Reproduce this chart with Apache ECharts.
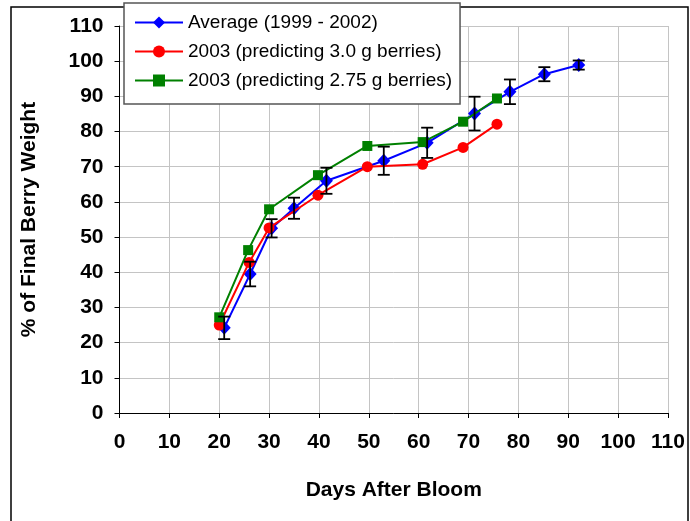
<!DOCTYPE html>
<html>
<head>
<meta charset="utf-8">
<script src="https://cdn.jsdelivr.net/npm/echarts@6/dist/echarts.min.js"></script>
<style>
html,body{margin:0;padding:0;background:#fff;}
#chart{width:690px;height:521px;}
</style>
</head>
<body>
<div id="chart"></div>
<script>
// ---- data ----
var avgDays   = [21, 26.2, 30.5, 35, 41.5, 53, 61.7, 71.2, 78.3, 85.2, 92.1];
var avgValues = [24.2, 39.5, 52.5, 58.2, 66, 71.7, 76.8, 85.1, 91.3, 96.3, 98.9];
var avgErrors = [3.2, 3.5, 2.6, 3, 3.7, 4, 4.3, 4.8, 3.5, 2, 1.3];

var redDays   = [20, 26, 30, 39.8, 49.7, 60.8, 68.9, 75.7];
var redValues = [25, 42.8, 52.6, 61.9, 70, 70.7, 75.5, 82.1];

var greenDays   = [20, 25.8, 30, 39.8, 49.7, 60.8, 68.9, 75.7];
var greenValues = [27.2, 46.3, 57.9, 67.6, 75.9, 77, 82.8, 89.4];

var seriesNames = ['Average (1999 - 2002)', '2003 (predicting 3.0 g berries)', '2003 (predicting 2.75 g berries)'];
var xTitle = 'Days After Bloom';
var yTitle = '% of Final Berry Weight';

function pairs(xs, ys){ return xs.map(function(x,i){ return [x, ys[i]]; }); }
var errData = avgDays.map(function(d,i){ return [d, avgValues[i]-avgErrors[i], avgValues[i]+avgErrors[i]]; });

var FONT = 'Liberation Sans, Arial, sans-serif';
var chart = echarts.init(document.getElementById('chart'), null, {renderer:'canvas'});
chart.setOption({
  backgroundColor:'#ffffff',
  animation:false,
  grid:{left:119.5, right:22, top:26, bottom:108, containLabel:false},
  legend:{
    orient:'vertical', left:124, top:3,
    data:seriesNames,
    backgroundColor:'#ffffff', borderColor:'#555', borderWidth:1.5,
    padding:[10,8,14,10], itemGap:10, itemWidth:48, itemHeight:15,
    textStyle:{fontFamily:FONT, fontSize:19, color:'#000'}
  },
  xAxis:{
    type:'value', min:0, max:110, interval:10,
    name:xTitle, nameLocation:'middle', nameGap:67,
    nameTextStyle:{fontFamily:FONT, fontSize:21, fontWeight:'bold', color:'#000'},
    axisLine:{onZero:false, lineStyle:{color:'#000', width:1}},
    axisTick:{show:true, length:5, lineStyle:{color:'#000'}},
    axisLabel:{margin:19, fontFamily:FONT, fontSize:21, fontWeight:'bold', color:'#000'},
    splitLine:{show:true, lineStyle:{color:'#c4c4c4', width:1}}
  },
  yAxis:{
    type:'value', min:0, max:110, interval:10,
    name:yTitle, nameLocation:'middle', nameGap:80, nameRotate:90,
    nameTextStyle:{fontFamily:FONT, fontSize:21, fontWeight:'bold', color:'#000'},
    axisLine:{show:true, onZero:false, lineStyle:{color:'#000', width:1}},
    axisTick:{show:true, length:5, lineStyle:{color:'#000'}},
    axisLabel:{margin:16, fontFamily:FONT, fontSize:21, fontWeight:'bold', color:'#000'},
    splitLine:{show:true, lineStyle:{color:'#c4c4c4', width:1}}
  },
  graphic:[{
    type:'rect', shape:{x:11, y:7, width:677, height:530},
    style:{fill:'none', stroke:'#000', lineWidth:1.5}, z:-10, silent:true
  }],
  series:[
    {
      name:seriesNames[0], type:'line', data:pairs(avgDays, avgValues),
      symbol:'diamond', symbolSize:[13,14], color:'#0000ff',
      lineStyle:{width:2, color:'#0000ff'}, itemStyle:{color:'#0000ff'}, z:3
    },
    {
      name:seriesNames[1], type:'line', data:pairs(redDays, redValues),
      symbol:'circle', symbolSize:11, color:'#ff0000',
      lineStyle:{width:2, color:'#ff0000'}, itemStyle:{color:'#ff0000'}, z:4
    },
    {
      name:seriesNames[2], type:'line', data:pairs(greenDays, greenValues),
      symbol:'rect', symbolSize:10, color:'#008000',
      lineStyle:{width:2, color:'#008000'}, itemStyle:{color:'#008000'}, z:5
    },
    {
      name:'err', type:'custom', data:errData, z:6,
      encode:{x:0, y:[1,2]},
      renderItem:function(params, api){
        var x = api.value(0);
        var lo = api.coord([x, api.value(1)]);
        var hi = api.coord([x, api.value(2)]);
        var hw = 6;
        var st = {stroke:'#000', lineWidth:1.8};
        return {type:'group', children:[
          {type:'line', shape:{x1:lo[0], y1:lo[1], x2:hi[0], y2:hi[1]}, style:st},
          {type:'line', shape:{x1:lo[0]-hw, y1:lo[1], x2:lo[0]+hw, y2:lo[1]}, style:st},
          {type:'line', shape:{x1:hi[0]-hw, y1:hi[1], x2:hi[0]+hw, y2:hi[1]}, style:st}
        ]};
      }
    }
  ]
});
</script>
</body>
</html>
